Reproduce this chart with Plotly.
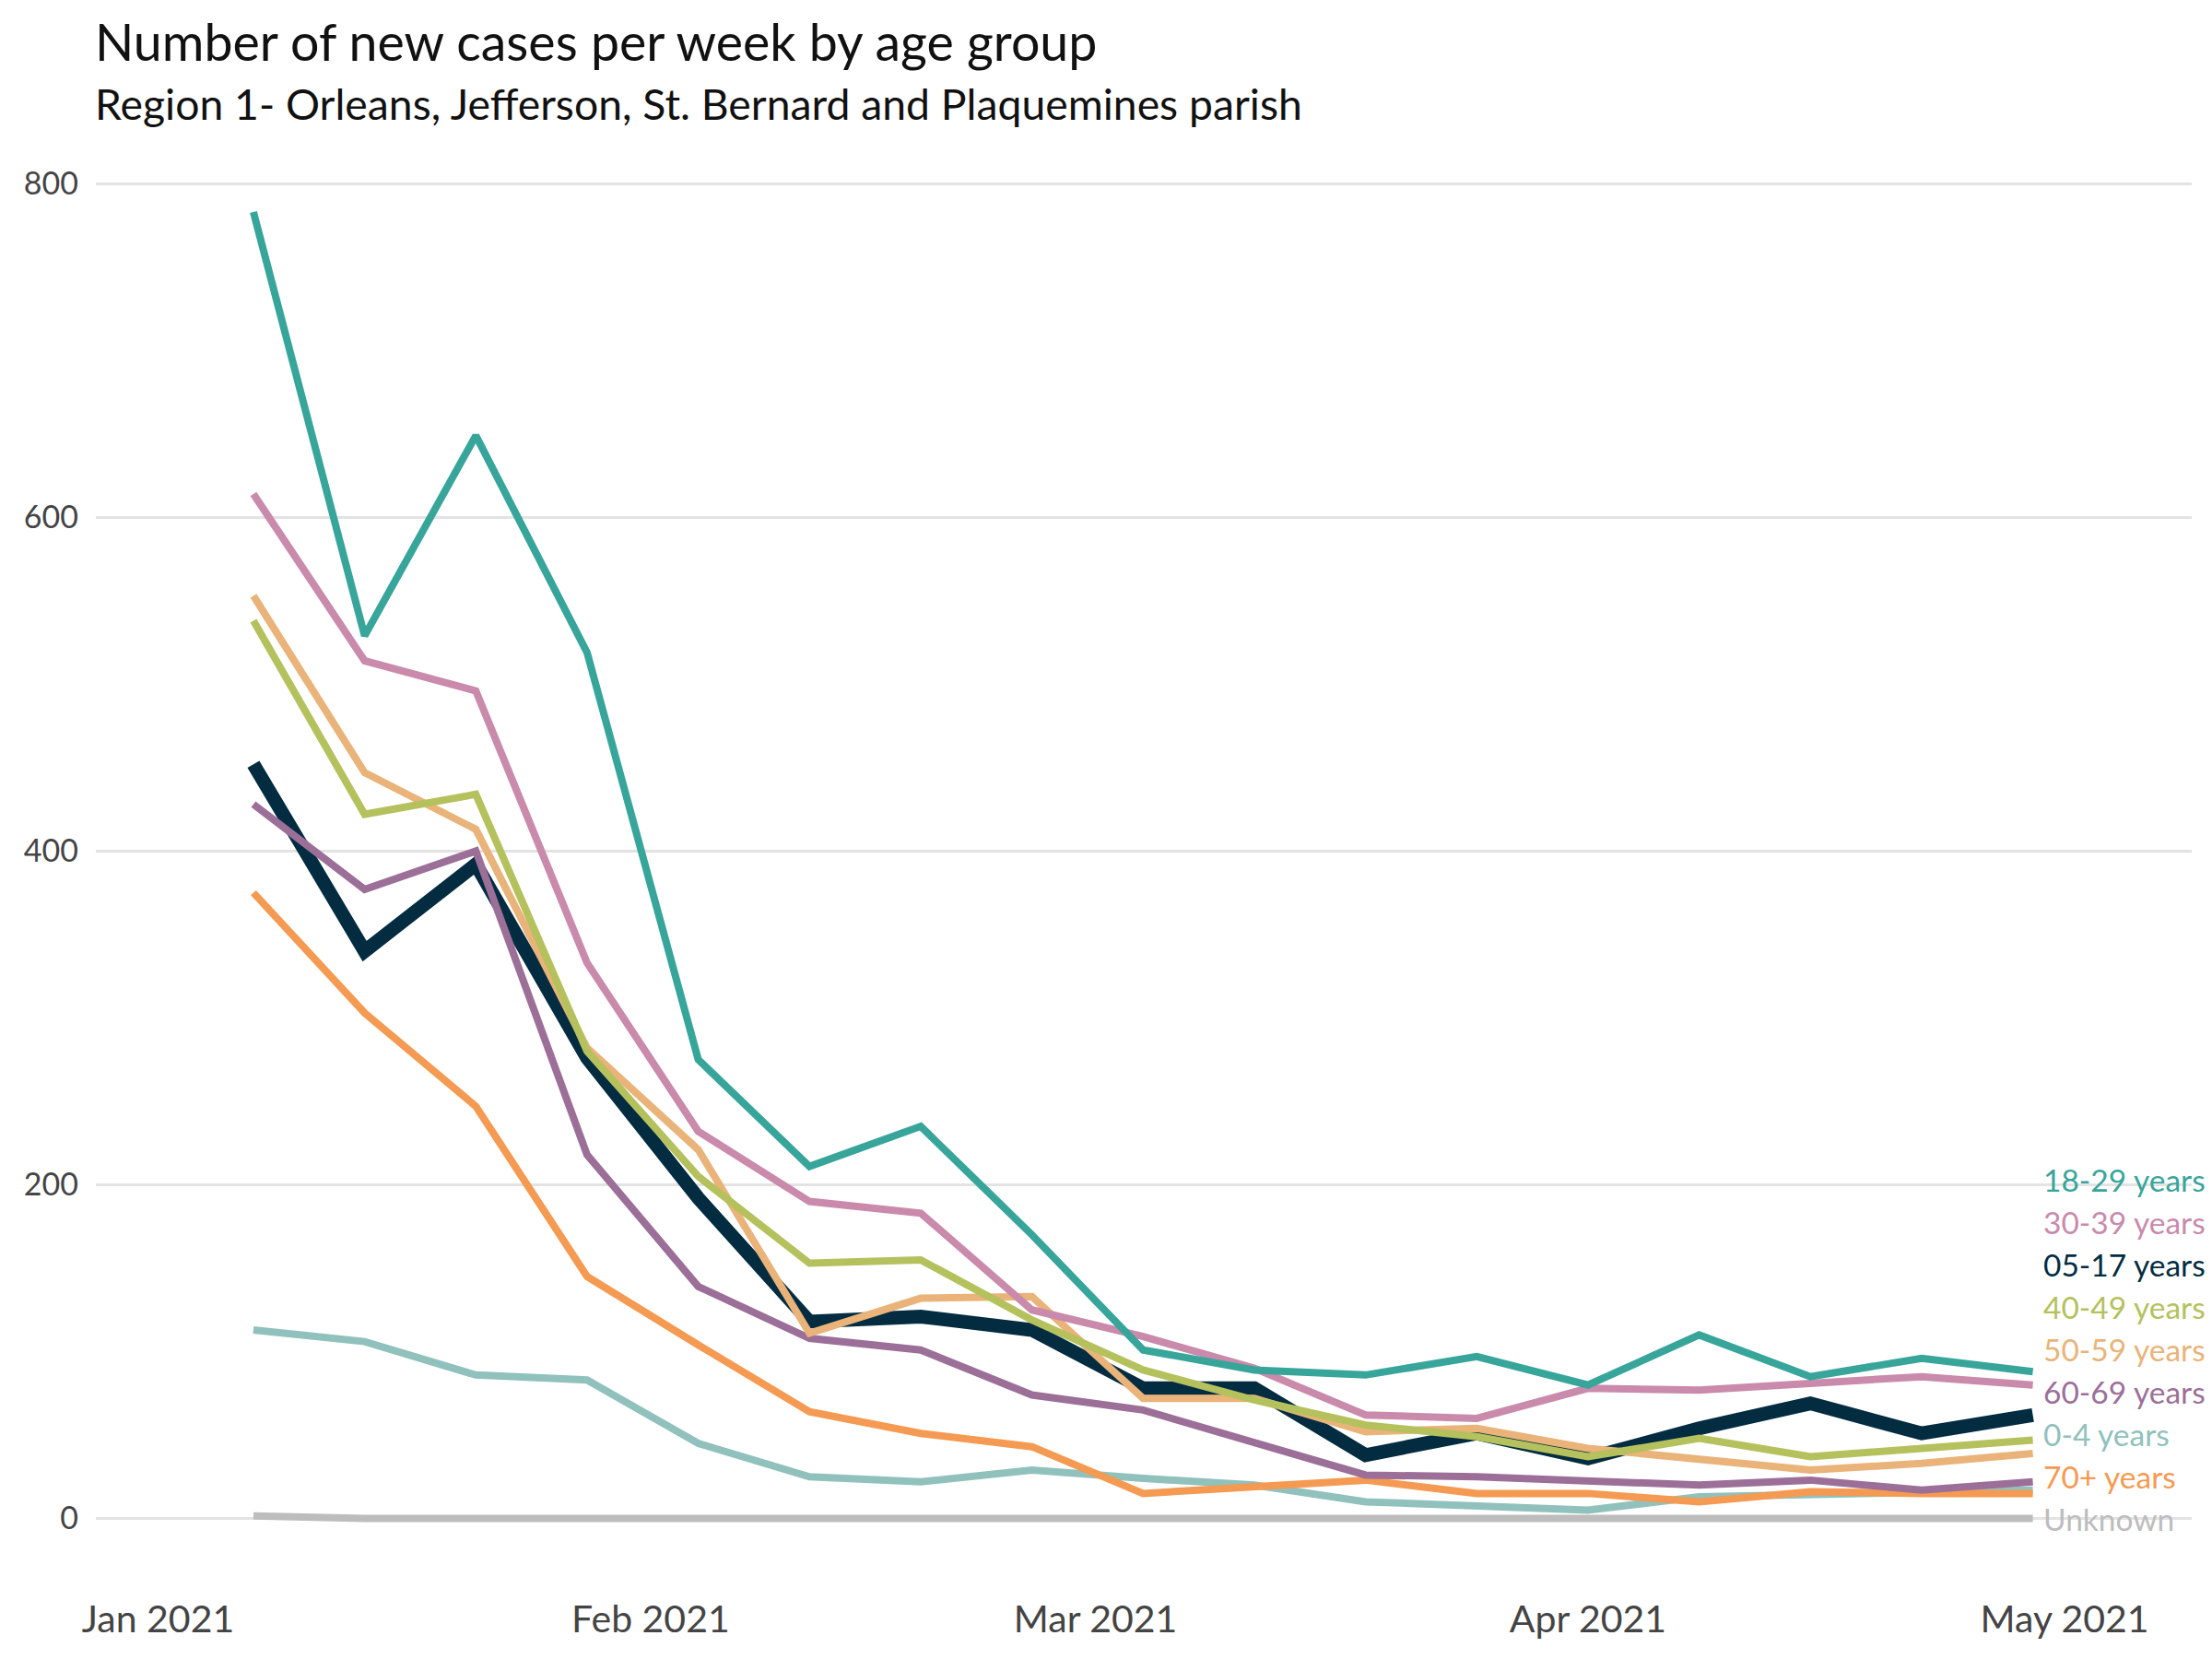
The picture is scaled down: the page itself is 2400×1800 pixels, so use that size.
import plotly.graph_objects as go

weeks = ["2021-01-07", "2021-01-14", "2021-01-21", "2021-01-28", "2021-02-04", "2021-02-11",
         "2021-02-18", "2021-02-25", "2021-03-04", "2021-03-11", "2021-03-18", "2021-03-25",
         "2021-04-01", "2021-04-08", "2021-04-15", "2021-04-22", "2021-04-29"]

age_18_29 = [783, 529, 649, 519, 275, 211, 235, 170, 101, 89, 86, 97, 80, 110, 85, 96, 88]
age_30_39 = [614, 514, 496, 333, 232, 190, 183, 125, 109, 90, 62, 60, 78, 77, 81, 85, 80]
age_05_17 = [452, 340, 392, 276, 192, 118, 121, 113, 78, 78, 38, 51, 36, 54, 69, 51, 62]
age_40_49 = [538, 422, 434, 280, 205, 153, 155, 119, 89, 71, 56, 49, 37, 48, 37, 42, 47]
age_50_59 = [553, 447, 413, 282, 221, 111, 132, 133, 72, 72, 52, 54, 42, 35, 29, 33, 39]
age_60_69 = [428, 377, 400, 218, 139, 108, 101, 74, 65, 46, 26, 25, 22, 20, 23, 17, 22]
age_0_4 = [113, 106, 86, 83, 45, 25, 22, 29, 24, 20, 10, 7, 5, 13, 14, 15, 17]
age_70p = [375, 303, 247, 145, 104, 64, 51, 43, 15, 19, 23, 15, 15, 10, 16, 15, 15]
age_unknown = [1.5, 0, 0, 0, 0, 0, 0, 0, 0, 0, 1, 0, 0, 0, 0, 1, 0]

# drawing order (bottom to top)
series = [
    ("Unknown", age_unknown, "#BDBDBD", 8),
    ("05-17 years", age_05_17, "#032C41", 15),
    ("0-4 years", age_0_4, "#90C1BC", 8),
    ("70+ years", age_70p, "#F59A52", 8),
    ("60-69 years", age_60_69, "#9C6F98", 8),
    ("50-59 years", age_50_59, "#E9B379", 8),
    ("40-49 years", age_40_49, "#B4C15D", 8),
    ("30-39 years", age_30_39, "#C98AAB", 8),
    ("18-29 years", age_18_29, "#38A59B", 8),
]

# end-label order bottom to top
label_order = ["Unknown", "70+ years", "0-4 years", "60-69 years", "50-59 years",
               "40-49 years", "05-17 years", "30-39 years", "18-29 years"]

W, H = 2400, 1800
ML, MR, MT, MB = 96, 30, 155, 79
YMIN, YMAX = -45, 820
LABEL_STEP = 25.4

fig = go.Figure()
colors = {}
for name, vals, col, w in series:
    colors[name] = col
    fig.add_trace(go.Scatter(x=weeks, y=vals, mode="lines", name=name,
                             line=dict(color=col, width=w), hoverinfo="x+y+name"))

annotations = []
for i, name in enumerate(label_order):
    annotations.append(dict(x=weeks[-1], y=i * LABEL_STEP, xref="x", yref="y",
                            text=name, showarrow=False, xanchor="left", yanchor="middle",
                            xshift=9, font=dict(family="Lato", size=33.5, color=colors[name])))

plot_h = H - MT - MB
def paper_y(px):
    return (H - MB - px) / plot_h

annotations.append(dict(x=0, y=paper_y(36), xref="paper", yref="paper", xshift=-3,
                        text="Number of new cases per week by age group", showarrow=False,
                        xanchor="left", yanchor="middle",
                        font=dict(family="Lato", size=55.5, color="#111111")))
annotations.append(dict(x=0, y=paper_y(104), xref="paper", yref="paper", xshift=-3,
                        text="Region 1- Orleans, Jefferson, St. Bernard and Plaquemines parish",
                        showarrow=False, xanchor="left", yanchor="middle",
                        font=dict(family="Lato", size=46.3, color="#111111")))

fig.update_layout(
    width=W, height=H,
    margin=dict(l=ML, r=MR, t=MT, b=MB),
    paper_bgcolor="white", plot_bgcolor="white",
    showlegend=False,
    annotations=annotations,
    font=dict(family="Lato"),
)
fig.update_xaxes(
    type="date", range=["2020-12-28 02:00", "2021-05-09"],
    dtick="M1", tick0="2021-01-01", tickformat="%b %Y",
    showgrid=False, zeroline=False, showline=False, ticks="",
    tickfont=dict(family="Lato", size=41, color="#444444"),
)
fig.update_yaxes(
    range=[YMIN, YMAX], tick0=0, dtick=200,
    showgrid=True, gridcolor="#E3E3E3", gridwidth=3,
    zeroline=False, showline=False, ticks="",
    ticklabelstandoff=18,
    tickfont=dict(family="Lato", size=34, color="#444444"),
)

fig.write_html("out.html")
